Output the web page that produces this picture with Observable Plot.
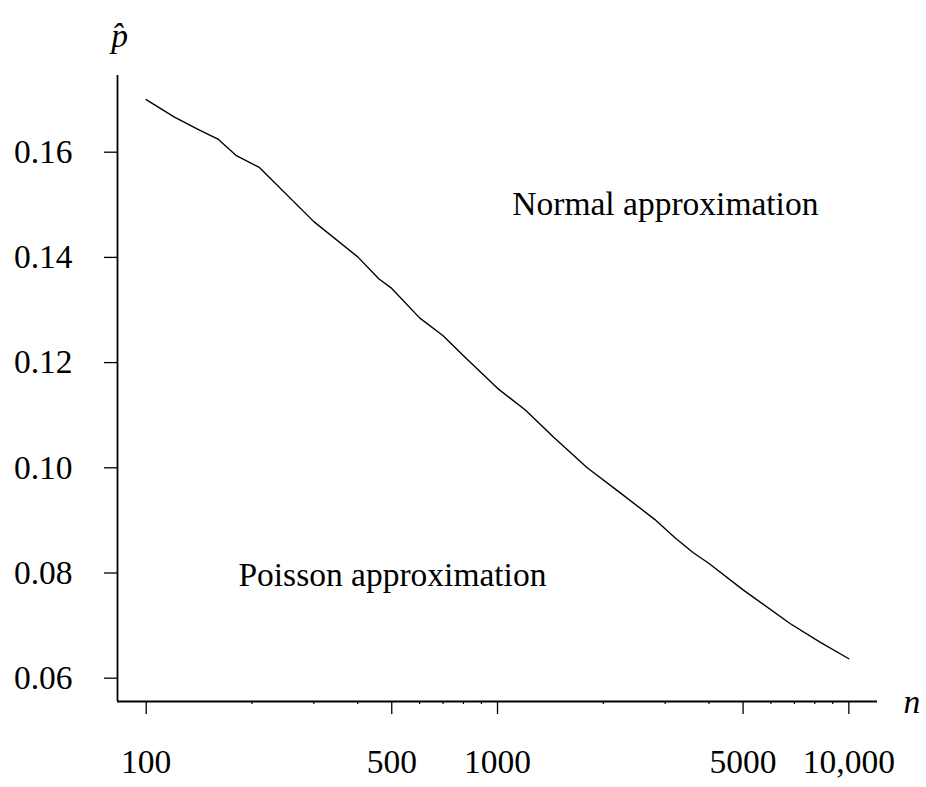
<!DOCTYPE html>
<html>
<head>
<meta charset="utf-8">
<script src="https://cdn.jsdelivr.net/npm/d3@7"></script>
<script src="https://cdn.jsdelivr.net/npm/@observablehq/plot@0.6"></script>
<style>
  html, body { margin: 0; padding: 0; background: #fff; }
  #chart svg { display: block; }
</style>
</head>
<body>
<div id="chart"></div>
<script>
// Sample size n and boundary estimate p-hat
const nValues = [100, 120, 140, 160, 180, 210, 300, 400, 460, 500, 600, 700, 800, 1000, 1200, 1450, 1800, 2250, 2800, 3200, 3600, 4000, 5000, 6800, 8300, 10000];
const pValues = [0.1700, 0.1667, 0.1644, 0.1625, 0.1594, 0.1571, 0.1468, 0.1401, 0.1359, 0.1341, 0.1285, 0.1251, 0.1213, 0.1151, 0.1110, 0.1057, 0.1000, 0.0951, 0.0902, 0.0867, 0.0839, 0.0818, 0.0768, 0.0704, 0.0668, 0.0637];

const xMajorTicks = [100, 500, 1000, 5000, 10000];
const xMajorLabels = ["100", "500", "1000", "5000", "10,000"];
const xMinorTicks = [200, 300, 400, 600, 700, 800, 900, 2000, 3000, 4000, 6000, 7000, 8000, 9000];
const yTicks = [0.06, 0.08, 0.10, 0.12, 0.14, 0.16];

const xDomain = [82.85, 12067];
const yDomain = [0.05557, 0.17458];

const regionLabels = ["Normal approximation", "Poisson approximation"];
const regionLabelN = [1102, 183];
const regionLabelP = [0.148, 0.0776];

const xLabel = "n";
const yLabel = "p\u0302";

const data = nValues.map((n, i) => ({n, p: pValues[i]}));
const regions = regionLabels.map((t, i) => ({t, n: regionLabelN[i], p: regionLabelP[i]}));
const xLabelMap = new Map(xMajorTicks.map((d, i) => [d, xMajorLabels[i]]));

const FONT = "'Liberation Serif', 'Times New Roman', Times, serif";
const FS = 33.5;

const chart = Plot.plot({
  width: 926,
  height: 787,
  marginLeft: 117,
  marginRight: 49,
  marginTop: 75,
  marginBottom: 86,
  style: {fontFamily: FONT, fontSize: FS + "px", color: "black", background: "white"},
  x: {type: "log", domain: xDomain},
  y: {type: "linear", domain: yDomain},
  marks: [
    Plot.axisY({ticks: yTicks, tickSize: 13, tickPadding: 32, strokeWidth: 1.3, tickFormat: d => d.toFixed(2), fontSize: FS, fontFamily: FONT, label: null}),
    Plot.axisX({ticks: xMajorTicks, tickSize: 13, tickPadding: 35, strokeWidth: 1.3, tickFormat: d => xLabelMap.get(d), fontSize: FS, fontFamily: FONT, label: null}),
    Plot.axisX({ticks: xMinorTicks, tickSize: 3, strokeWidth: 1.2, tickFormat: () => "", label: null}),
    Plot.ruleX([xDomain[0]], {stroke: "black", strokeWidth: 1.8}),
    Plot.ruleY([yDomain[0]], {stroke: "black", strokeWidth: 1.8}),
    Plot.line(data, {x: "n", y: "p", stroke: "black", strokeWidth: 1.4}),
    Plot.text(regions, {x: "n", y: "p", text: "t", textAnchor: "start", lineAnchor: "bottom", fontSize: FS, fontFamily: FONT, fill: "black"}),
    Plot.text([xLabel], {frameAnchor: "bottom-right", text: d => d, textAnchor: "start", lineAnchor: "middle", dx: 26, dy: 1, fontSize: FS, fontStyle: "italic", fontFamily: FONT, fill: "black"}),
    Plot.text([yLabel], {frameAnchor: "top-left", text: d => d, textAnchor: "middle", lineAnchor: "bottom", dx: 2, dy: -29, fontSize: FS, fontStyle: "italic", fontFamily: FONT, fill: "black"})
  ]
});
document.getElementById("chart").appendChild(chart);
</script>
</body>
</html>
